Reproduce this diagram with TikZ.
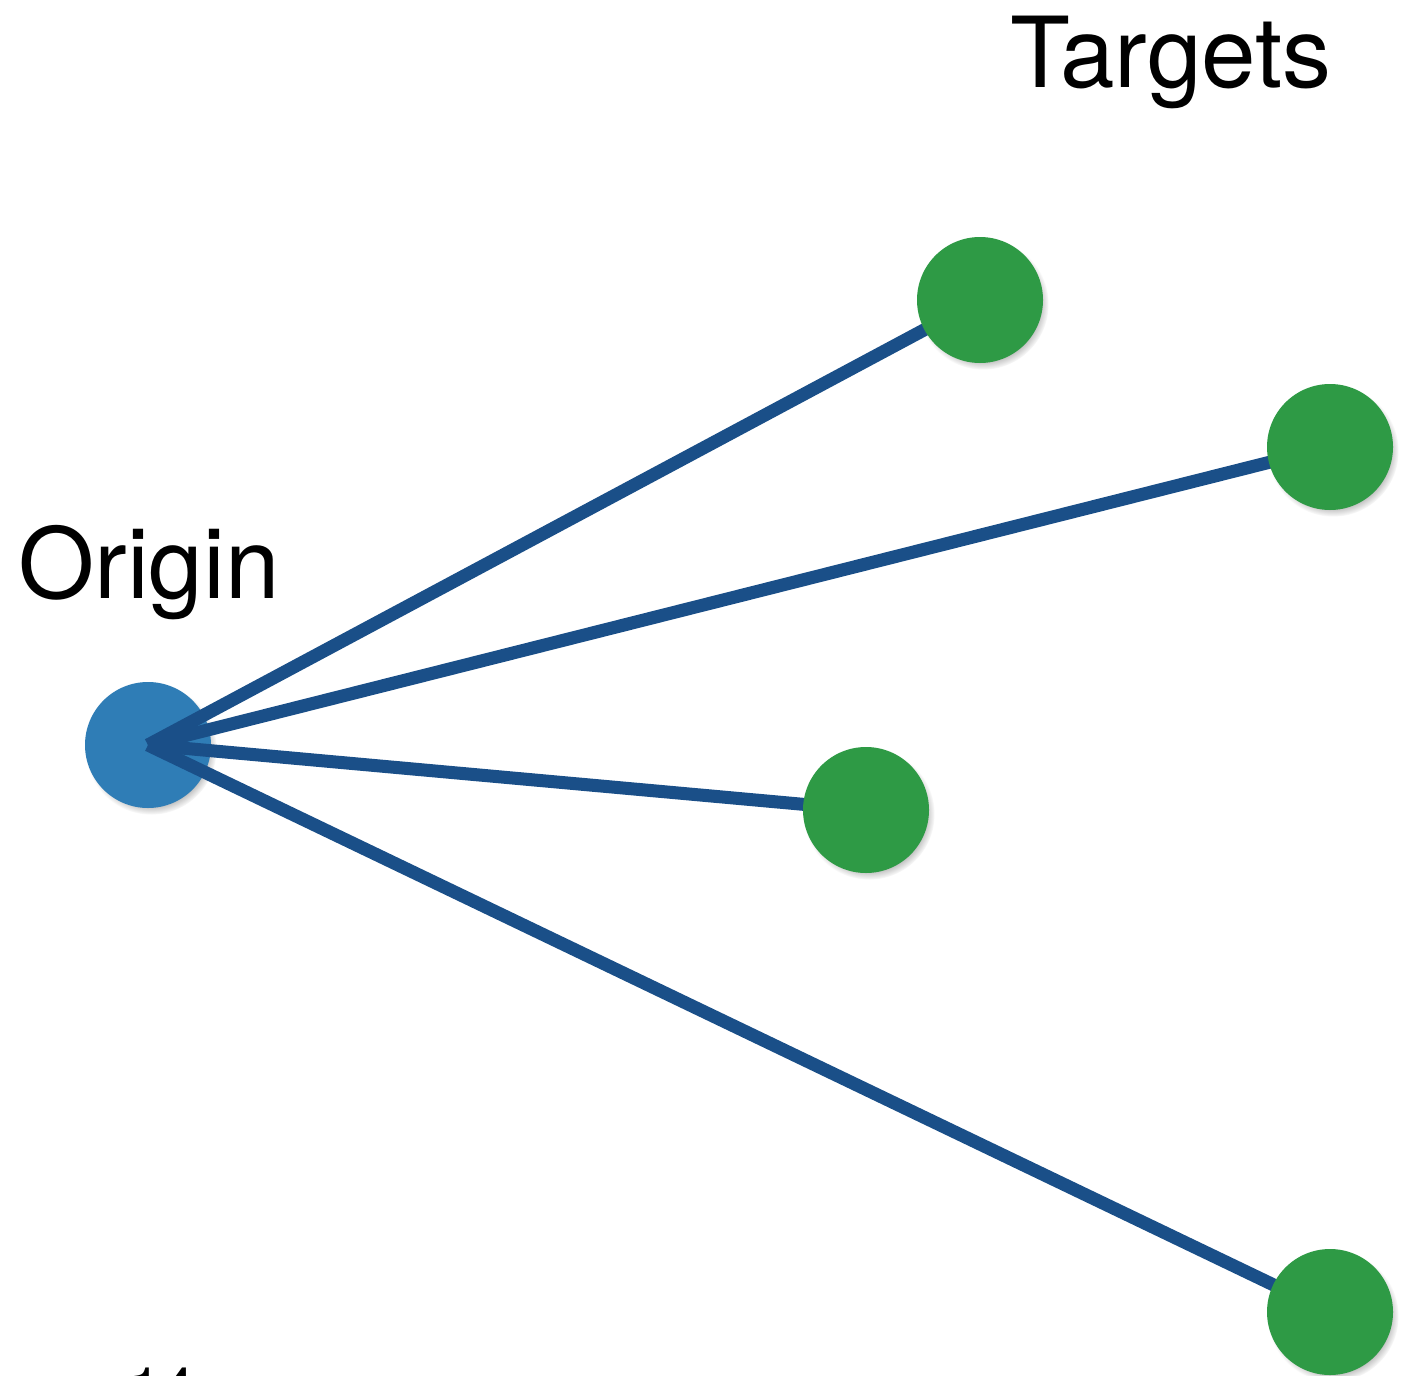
\documentclass[tikz,border=0pt]{standalone}
\usepackage{fontspec}
\setmainfont{TeX Gyre Heros}
\usetikzlibrary{shadows,fadings}
\definecolor{origincol}{HTML}{2F7DB6}
\definecolor{targetcol}{HTML}{2E9A45}
\definecolor{linkcol}{HTML}{1A4F88}
\tikzset{
  dot/.style={circle, minimum size=126pt, inner sep=0pt,
    circular drop shadow={shadow xshift=3pt, shadow yshift=-4pt, shadow scale=1.04, opacity=0.55}},
  origindot/.style={dot, fill=origincol},
  targetdot/.style={dot, fill=targetcol},
  link/.style={draw=linkcol, line width=13pt},
  heading/.style={font=\fontsize{98}{102}\selectfont, inner sep=0pt, anchor=base west}
}
\begin{document}
\begin{tikzpicture}[x=1pt, y=-1pt]
  \useasboundingbox (0,0) rectangle (1415,1375);
  \clip (0,0) rectangle (1415,1375);
  \fill[white] (0,0) rectangle (1415,1375);

  % labels
  \node[heading] (tlabel) at (1010,88) {Targets};
  \node[heading] (olabel) at (18,598) {Origin};
  \node[font=\fontsize{60}{64}\selectfont, inner sep=0pt, anchor=base west] (page) at (128,1410) {14};

  % origin
  \node[origindot] (o) at (148,745) {};

  % targets
  \coordinate (t1c) at (980,300);
  \coordinate (t2c) at (1330,447);
  \coordinate (t3c) at (866,810);
  \coordinate (t4c) at (1330,1312);

  % connectors run from the origin centre to each target centre
  \draw[link] (o.center) -- (t1c);
  \draw[link] (o.center) -- (t2c);
  \draw[link] (o.center) -- (t3c);
  \draw[link] (o.center) -- (t4c);

  \node[targetdot] (t1) at (t1c) {};
  \node[targetdot] (t2) at (t2c) {};
  \node[targetdot] (t3) at (t3c) {};
  \node[targetdot] (t4) at (t4c) {};
\end{tikzpicture}
\end{document}
